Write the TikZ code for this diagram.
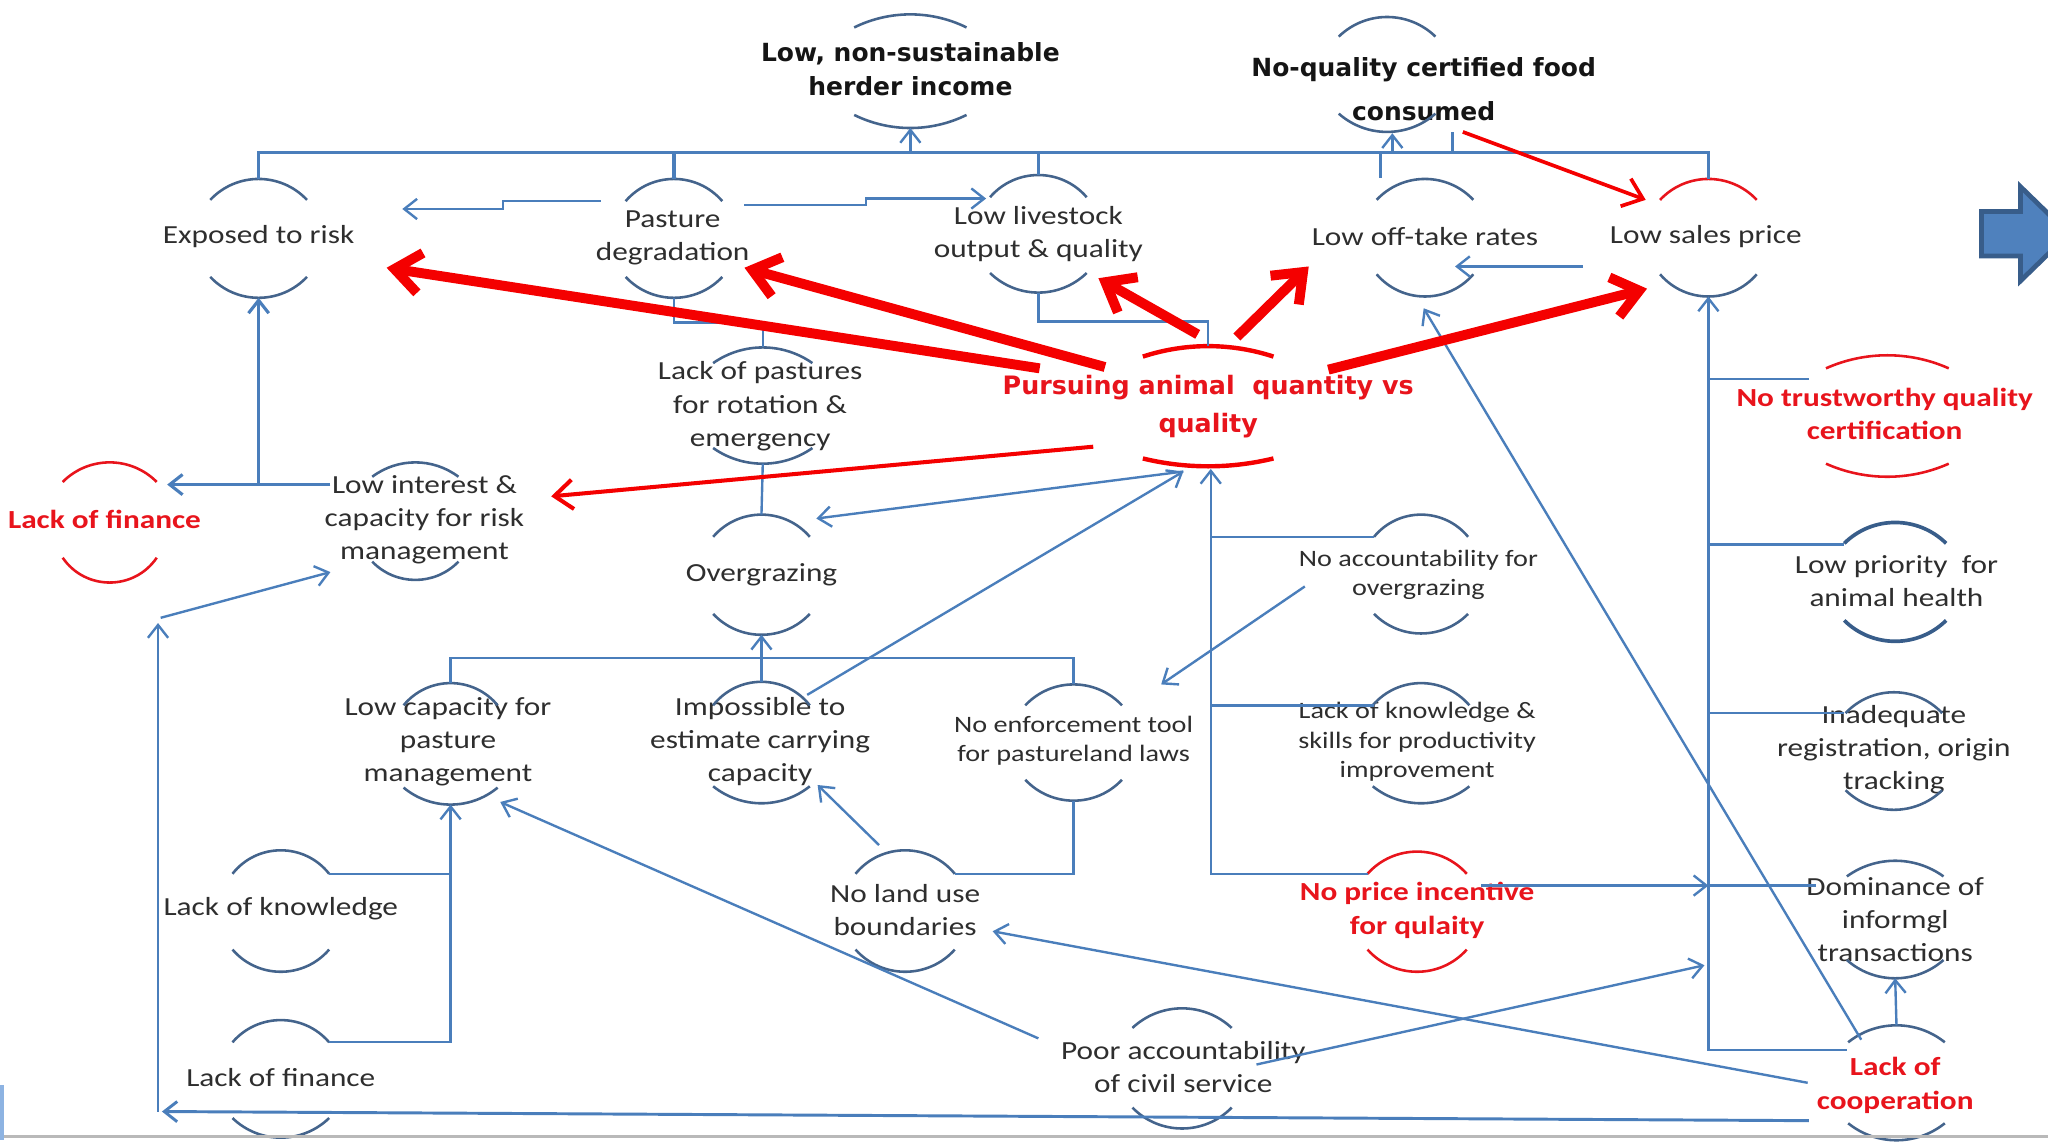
\documentclass[tikz,border=0pt]{standalone}
\usepackage{fontspec}
\setmainfont{Carlito}[FakeStretch=1.2]
\newfontfamily\dejavu{DejaVu Sans}
\usetikzlibrary{arrows.meta,calc}
\definecolor{lnc}{HTML}{4A7EBB}
\definecolor{arcc}{HTML}{44648C}
\definecolor{txtc}{HTML}{2E2E2E}
\definecolor{redt}{HTML}{E8141C}
\definecolor{reda}{HTML}{F40000}
\definecolor{blk}{HTML}{151515}
\definecolor{bafill}{HTML}{4F81BD}
\definecolor{badraw}{HTML}{385D8A}
\definecolor{lblue}{HTML}{8DB3E2}
\tikzset{
  ln/.style={draw=lnc, line width=0.65pt},
  busln/.style={draw=lnc, line width=0.85pt},
  arw/.style={-{Straight Barb[length=3.5pt,width=5.5pt]}},
  redarw/.style={draw=reda, line width=2.7pt, -{Straight Barb[length=7pt,width=11pt]}},
  redthin/.style={draw=reda, line width=1.1pt, -{Straight Barb[length=5pt,width=8pt]}},
  arcst/.style={draw=arcc, line width=0.7pt},
  arcred/.style={draw=redt, line width=0.7pt},
  arcpur/.style={draw=reda, line width=1.2pt},
  arcdark/.style={draw=badraw, line width=1pt},
  txt/.style={align=center, inner sep=0pt, text=txtc, font=\fontsize{7.1}{9}\selectfont},
  sm/.style={align=center, inner sep=0pt, text=txtc, font=\fontsize{6.4}{8}\selectfont},
  rb/.style={align=center, inner sep=0pt, text=redt, font=\fontsize{7.1}{9}\selectfont\bfseries},
  vb/.style={align=center, inner sep=0pt, font=\dejavu\bfseries\fontsize{6.8}{9.2}\selectfont}
}
% arc: #2 centre x, #3 end-point y, #4 half width, #5 signed sag (positive bulges up)
\newcommand\harc[5][arcst]{%
  \pgfmathsetmacro\hr{((#4)*(#4)+(#5)*(#5))/(2*abs(#5))}%
  \pgfmathsetmacro\ha{asin((#4)/\hr)}%
  \pgfmathsetmacro\hc{(#4)-4/3*tan(\ha/2)*\hr*cos(\ha)}%
  \pgfmathsetmacro\hy{(#3)-4/3*(#5)}%
  \draw[#1] ({#2-#4},#3) .. controls ({#2-\hc},\hy) and ({#2+\hc},\hy) .. ({#2+#4},#3);}
% pair of arcs with named top/bottom points
\newcommand\arcs[8]{%
  \harc[#8]{#2}{#3}{#7}{#4}%
  \harc[#8]{#2}{#5}{#7}{-#6}%
  \coordinate (#1-t) at (#2,{#3-#4});%
  \coordinate (#1-b) at (#2,{#5+#6});}

\begin{document}
\begin{tikzpicture}[x=0.0125cm,y=-0.0125cm]
\useasboundingbox (0,0) rectangle (1568,876);
\begin{scope}
\clip (0,0) rectangle (1568,876);

% ---------- nodes ----------
\node[vb,text=blk] (inc) at (697,53) {Low, non-sustainable\\herder income};
\node[vb,text=blk,font=\dejavu\bfseries\fontsize{6.8}{12}\selectfont] (cert) at (1090,68) {No-quality certified food\\consumed};
\node[txt] (exp) at (198,181) {Exposed to risk};
\node[txt] (pas) at (515,182) {Pasture\\degradation};
\node[txt] (liv) at (795,179) {Low livestock\\output \& quality};
\node[txt] (off) at (1091,181) {Low off-take rates};
\node[txt] (sal) at (1306,181) {Low sales price};
\node[vb,text=redt,font=\dejavu\bfseries\fontsize{6.9}{10.3}\selectfont] (pur) at (925,311) {Pursuing animal\ \ quantity vs\\quality};
\node[txt] (lp) at (582,311) {Lack of pastures\\for rotation \&\\emergency};
\node[txt] (ovg) at (583,440) {Overgrazing};
\node[txt] (lint) at (325,398) {Low interest \&\\capacity for risk\\management};
\node[rb] (lfr) at (80,398) {Lack of finance};
\node[txt] (lcp) at (343,568) {Low capacity for\\pasture\\management};
\node[txt] (imp) at (582,568) {Impossible to\\estimate carrying\\capacity};
\node[sm] (nen) at (822,567) {No enforcement tool\\for pastureland laws};
\node[txt] (nlu) at (693,697) {No land use\\boundaries};
\node[txt] (lkn) at (215,696) {Lack of knowledge};
\node[txt] (lfb) at (215,825) {Lack of finance};
\node[txt] (pac) at (906,817) {Poor accountability\\of civil service};
\node[rb] (lco) at (1451,831) {Lack of\\cooperation};
\node[rb] (npi) at (1085,697) {No price incentive\\for qulaity};
\node[sm] (nac) at (1086,440) {No accountability for\\overgrazing};
\node[sm] (lks) at (1085,568) {Lack of knowledge \&\\skills for productivity\\improvement};
\node[rb] (ntq) at (1443,317) {No trustworthy quality\\certification};
\node[txt] (lpa) at (1452,445) {Low priority\ \ for\\animal health};
\node[txt] (inr) at (1450,574) {Inadequate\\registration, origin\\tracking};
\node[txt] (dom) at (1451,704) {Dominance of\\informgl\\transactions};

% ---------- arcs ----------
\arcs{inc}{697}{21}{10}{88}{10}{43}{arcst}
\arcs{cert}{1062}{28}{15}{87}{14}{37}{arcst}
\arcs{exp}{198}{153}{16}{212}{16}{37}{arcst}
\arcs{pas}{516}{154}{17}{212}{16}{37}{arcst}
\arcs{liv}{795}{151}{17}{209}{15}{37}{arcst}
\arcs{off}{1091}{153}{16}{210}{17}{37}{arcst}
\harc[arcred]{1308}{153}{37}{16}
\harc[arcst]{1308}{210}{37}{-17}
\coordinate (sal-t) at (1308,137);
\coordinate (sal-b) at (1308,227);
\arcs{pur}{925}{273}{8}{351}{6}{50}{arcpur}
\arcs{lp}{584}{278}{12}{343}{12}{38}{arcst}
\arcs{ovg}{583}{411}{17}{470}{16}{37}{arcst}
\arcs{lint}{318}{365}{11}{430}{14}{33}{arcst}
\arcs{lfr}{84}{369}{15}{427}{19}{36}{arcred}
\arcs{lcp}{345}{540}{17}{603}{13}{36}{arcst}
\arcs{imp}{583}{540}{18}{602}{13}{37}{arcst}
\arcs{nen}{822}{540}{16}{597}{16}{37}{arcst}
\arcs{nlu}{693}{669}{18}{727}{17}{38}{arcst}
\arcs{lkn}{215}{669}{18}{727}{17}{37}{arcst}
\arcs{lfb}{215}{798}{17}{856}{15}{37}{arcst}
\arcs{pac}{905}{787}{15}{848}{16}{38}{arcst}
\arcs{lco}{1452}{798}{13}{860}{13}{37}{arcst}
\arcs{npi}{1085}{669}{17}{727}{17}{38}{arcred}
\arcs{nac}{1088}{411}{17}{470}{15}{36}{arcst}
\arcs{lks}{1088}{540}{17}{602}{13}{37}{arcst}
\arcs{ntq}{1445}{282}{10}{355}{10}{47}{arcred}
\arcs{lpa}{1451}{416}{16}{475}{16}{39}{arcdark}
\arcs{inr}{1450}{546}{16}{605}{15}{37}{arcst}
\arcs{dom}{1451}{671}{12}{735}{14}{37}{arcst}

% ---------- top bus ----------
\draw[busln] (exp-t) -- ++(0,-20) -| (sal-t);
\draw[busln] (pas-t) -- ++(0,-20);
\draw[busln] (liv-t) -- ++(0,-17);
\draw[ln,arw] ($(inc-b)+(0,19)$) -- (inc-b);
\draw[ln] ($(off-t)+(-34,-1)$) -- ++(0,-19);
\draw[ln,arw] ($(cert-b)+(4,16)$) -- ($(cert-b)+(4,1)$);
\draw[ln] ($(cert-b)+(50,16)$) -- ++(0,-16);

% ---------- blue connectors ----------
\draw[ln,arw] ($(pas)+(-55,-28)$) -- ++(-75,0) -- ++(0,6) -- ($(exp)+(110,-21)$);
\draw[ln,arw] ($(pas)+(55,-25)$) -- ++(93,0) -- ++(0,-5) -- ($(liv)+(-40,-27)$);
\draw[ln,arw] ($(sal)+(-94,23)$) -- ($(off)+(23,23)$);
\draw[ln] (pas-b) -- ++(0,19) -| (lp-t);
\draw[ln] (liv-b) -- ++(0,22) -| (pur-t);
\draw[ln,arw,line width=0.85pt] ($(lint)+(-72,-27)$) -| (exp-b);
\draw[ln,arw,line width=0.85pt] ($(exp-b)+(0,143)$) -- ($(lfr)+(48,-27)$);
\draw[ln] (lp-b) -- (ovg-t);
\draw[ln,arw] ($(pur-b)+(-19,4)$) -- ($(ovg)+(42,-43)$);
\draw[ln,arw] ($(imp)+(36,-36)$) -- ($(pur-b)+(-19,4)$);
\draw[ln,arw] (imp-t) -- (ovg-b);
\draw[ln] (lcp-t) -- ++(0,-19) -| (nen-t);
\draw[ln,arw] ($(nac)+(-87,9)$) -- ($(nen)+(67,-43)$);
\draw[ln] (nen-b) |- ($(nlu-t)+(38,18)$);
\draw[ln,arw] ($(nlu)+(-20,-50)$) -- ($(imp)+(44,33)$);
\draw[ln] ($(lkn-t)+(37,18)$) -- ++(93,0);
\draw[ln,arw] ($(lfb-t)+(37,17)$) -| (lcp-b);
\draw[ln,arw] ($(pac)+(-111,-22)$) -- ($(lcp)+(40,46)$);
\draw[ln,arw] ($(pac)+(56,-2)$) -- ($(dom)+(-146,35)$);
\draw[ln,arw] ($(lco)+(-67,-2)$) -- ($(nlu)+(67,16)$);
\draw[ln,arw] ($(lco)+(-26,-35)$) -- ($(off-b)+(-1,9)$);
\draw[ln,arw] (lco-t) -- (dom-b);
\draw[ln,arw,line width=0.8pt] ($(lco)+(-66,27)$) -- ($(lfb)+(-91,26)$);
\draw[ln,arw] ($(lfb)+(-94,26)$) -- ($(lint)+(-204,79)$);
\draw[ln,arw] ($(lint)+(-202,75)$) -- ($(lint)+(-72,40)$);
\draw[ln,arw] ($(lco)+(-37,-27)$) -| (sal-b);
\draw[ln] ($(ntq)+(-135,-27)$) -- ++(77,0);
\draw[ln] ($(lpa)+(-144,-28)$) -- ++(104,0);
\draw[ln] ($(inr)+(-142,-28)$) -- ++(104,0);
\draw[ln,arw] ($(npi)+(49,-19)$) -- ($(dom)+(-143,-26)$);
\draw[ln] ($(dom)+(-143,-26)$) -- ++(82,0);
\draw[ln,arw] ($(npi-t)+(-38,17)$) -| ($(pur-b)+(2,2)$);
\draw[ln] ($(nac-t)+(-36,17)$) -- ++(-125,0);
\draw[ln] ($(lks-t)+(-36,17)$) -- ++(-125,0);

% ---------- red arrows ----------
\draw[redarw] ($(pur)+(-129,-29)$) -- ($(exp)+(98,24)$);
\draw[redarw] ($(pur)+(-79,-30)$) -- ($(pas)+(55,23)$);
\draw[redarw] ($(pur)+(-8,-55)$) -- ($(liv)+(46,34)$);
\draw[redarw] ($(pur)+(22,-53)$) -- ($(off)+(-89,23)$);
\draw[redarw] ($(pur)+(92,-28)$) -- ($(sal)+(-45,40)$);
\draw[redthin] ($(pur)+(-88,31)$) -- ($(lint)+(97,-18)$);
\draw[redthin,line width=1pt] ($(cert)+(30,33)$) -- ($(sal-t)+(-48,16)$);

% ---------- block arrow and slide edges ----------
\draw[fill=bafill, draw=badraw, line width=1.3pt, line join=miter]
  (1517,162) -- (1547,162) -- (1547,143) -- (1584,179) -- (1547,215) -- (1547,196) -- (1517,196) -- cycle;
\draw[draw=gray!55, line width=0.7pt] (0,870) -- (1568,870);
\fill[lblue] (0,831) rectangle (3,873);
\end{scope}
\end{tikzpicture}
\end{document}
